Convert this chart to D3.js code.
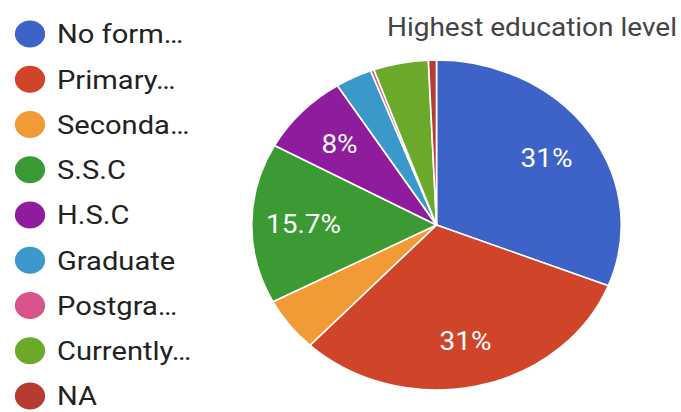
<!DOCTYPE html>
<html><head><meta charset="utf-8">
<script src="https://cdn.jsdelivr.net/npm/d3@7"></script>
<style>html,body{margin:0;padding:0;background:#fff;}svg{display:block;}</style>
</head><body>
<svg id="c" width="681" height="412"></svg>
<script>
const categories = ["No form…", "Primary…", "Seconda…", "S.S.C", "H.S.C", "Graduate", "Postgra…", "Currently…", "NA"];
const values = [31, 31, 5.3, 15.7, 8, 3.2, 0.3, 4.8, 0.7];
const colors = ["#3d63c9", "#d0452a", "#f29b36", "#3c9a34", "#8e1c9c", "#3b98cb", "#d9548a", "#6aa92a", "#b53a30"];
const title = "Highest education level";

const SX = 1.12;
const svg = d3.select("#c");
const g = svg.append("g").attr("transform", `scale(${SX},1)`);

// title
g.append("text")
  .attr("x", 677 / SX).attr("y", 36)
  .attr("text-anchor", "end")
  .attr("font-family", "Roboto, sans-serif")
  .attr("font-size", 25)
  .attr("fill", "#444")
  .text(title);

// legend
const leg = g.append("g");
const ly = d3.scalePoint().domain(categories).range([34, 396]);
const items = leg.selectAll("g").data(categories).join("g")
  .attr("transform", d => `translate(0,${ly(d)})`);
items.append("circle").attr("cx", 30 / SX).attr("cy", 0).attr("r", 13.5)
  .attr("fill", (d, i) => colors[i]);
items.append("text").attr("x", 57 / SX).attr("y", 0).attr("dy", "0.36em")
  .attr("font-family", "Roboto, sans-serif").attr("font-size", 26)
  .attr("fill", "#222").text(d => d);

// pie
const cx = 436.5 / SX, cy = 225, R = 165;
const pie = d3.pie().sort(null).value(d => d)(values);
const arc = d3.arc().innerRadius(0).outerRadius(R);
const pg = g.append("g").attr("transform", `translate(${cx},${cy})`);
pg.selectAll("path").data(pie).join("path")
  .attr("d", arc)
  .attr("fill", (d, i) => colors[i])
  .attr("stroke", "#fff").attr("stroke-width", 1.5);
const la = d3.arc().innerRadius(R * 0.72).outerRadius(R * 0.72);
pg.selectAll("text").data(pie.filter(d => d.data >= 8)).join("text")
  .attr("transform", d => `translate(${la.centroid(d)})`)
  .attr("text-anchor", "middle").attr("dy", "0.36em")
  .attr("font-family", "Roboto, sans-serif").attr("font-size", 25)
  .attr("fill", "#fff")
  .text(d => d.data + "%");
</script>
</body></html>
